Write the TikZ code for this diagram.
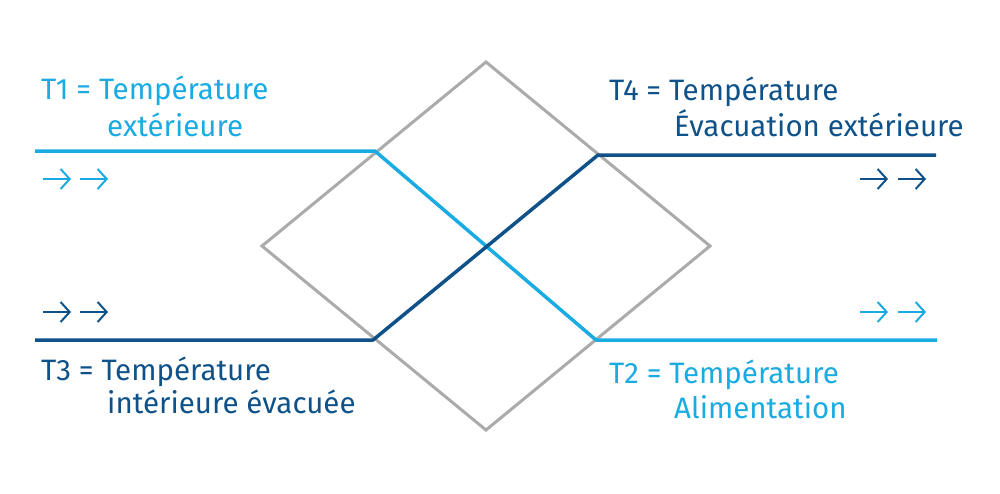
\documentclass[tikz,border=0pt]{standalone}
\usepackage{fontspec}
\setmainfont{Fira Sans}
\usetikzlibrary{arrows.meta}
\definecolor{lblue}{HTML}{1AABE2}
\definecolor{dblue}{HTML}{0E5289}
\definecolor{dgray}{HTML}{ABABAB}
\begin{document}
\begin{tikzpicture}[x=1pt,y=-1pt,
  diamondline/.style={draw=dgray,line width=3pt,line join=miter},
  flowline/.style={line width=3.5pt,line join=round},
  lbl/.style={anchor=base west,inner sep=0pt,font=\fontsize{29.5}{34}\selectfont},
  flowarrow/.style={line width=2pt,-{Straight Barb[length=9pt,width=20pt,line width=2pt]}}]
\useasboundingbox (0,0) rectangle (1000,493);
% diamond
\coordinate (top) at (486,62);
\coordinate (left) at (262,246);
\coordinate (right) at (710,246);
\coordinate (bottom) at (486,430);
\draw[diamondline] (top) -- (right) -- (bottom) -- (left) -- cycle;
% light blue path
\coordinate (a1) at (35,151);
\coordinate (a2) at (375,151);
\coordinate (a3) at (596,340);
\coordinate (a4) at (937,340);
\draw[flowline,draw=lblue] (a1) -- (a2) -- (a3) -- (a4);
% dark blue path
\coordinate (b1) at (35,340);
\coordinate (b2) at (373,340);
\coordinate (b3) at (598,155);
\coordinate (b4) at (936,155);
\draw[flowline,draw=dblue] (b1) -- (b2) -- (b3) -- (b4);
% labels
\node[lbl,text=lblue] (t1a) at (41,99) {T1 = Température};
\node[lbl,text=lblue] (t1b) at (107,136) {extérieure};
\node[lbl,text=dblue] (t3a) at (41,380) {T3 = Température};
\node[lbl,text=dblue] (t3b) at (107,413) {intérieure évacuée};
\node[lbl,text=dblue] (t4a) at (609,100) {T4 = Température};
\node[lbl,text=dblue] (t4b) at (674,136) {Évacuation extérieure};
\node[lbl,text=lblue] (t2a) at (609,383) {T2 = Température};
\node[lbl,text=lblue] (t2b) at (674,418) {Alimentation};
% arrows
\foreach \y/\c/\n in {179/lblue/tl,312/dblue/bl}{
  \coordinate (\n s1) at (43,\y); \coordinate (\n e1) at (71,\y);
  \coordinate (\n s2) at (80,\y); \coordinate (\n e2) at (108,\y);
  \draw[flowarrow,draw=\c] (\n s1) -- (\n e1);
  \draw[flowarrow,draw=\c] (\n s2) -- (\n e2);
}
\foreach \y/\c/\n in {179/dblue/tr,312/lblue/br}{
  \coordinate (\n s1) at (860,\y); \coordinate (\n e1) at (888,\y);
  \coordinate (\n s2) at (898,\y); \coordinate (\n e2) at (926,\y);
  \draw[flowarrow,draw=\c] (\n s1) -- (\n e1);
  \draw[flowarrow,draw=\c] (\n s2) -- (\n e2);
}
\end{tikzpicture}
\end{document}
